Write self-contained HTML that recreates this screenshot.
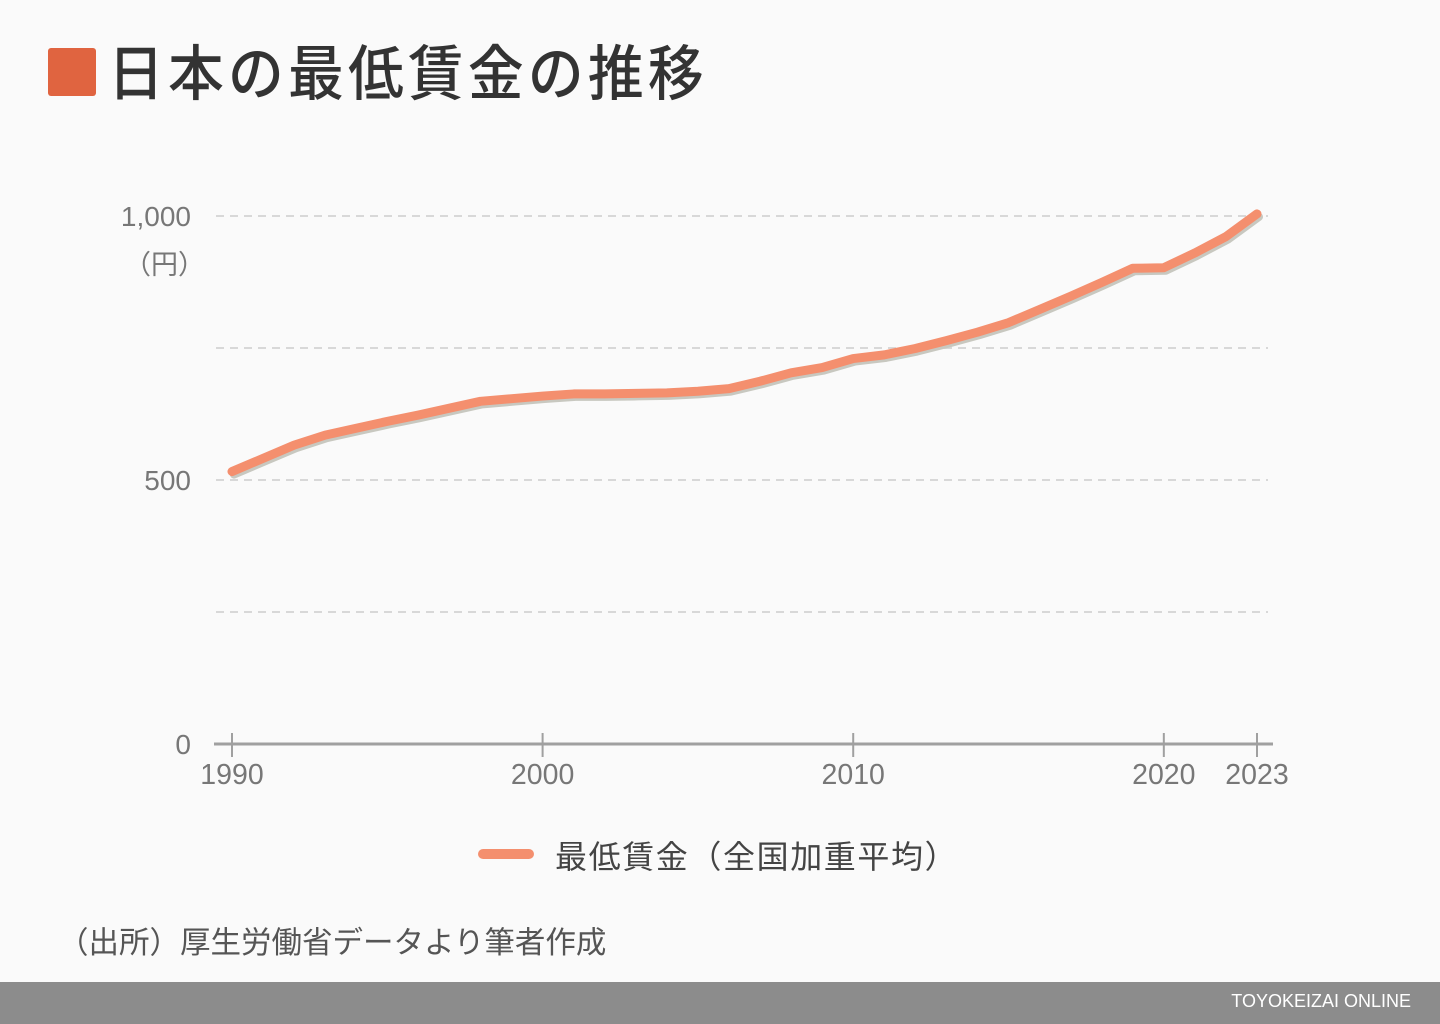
<!DOCTYPE html>
<html><head><meta charset="utf-8">
<style>
body{margin:0;width:1440px;height:1024px;background:#fafafa;overflow:hidden;font-family:"Liberation Sans","Noto Sans CJK JP",sans-serif;position:relative}
.t{position:absolute;white-space:nowrap}
</style></head><body>
<div style="position:absolute;left:48px;top:48px;width:48px;height:48px;background:#e06440;border-radius:3px"></div>
<div class="t" style="left:108px;top:26px;font-size:60px;color:#333;font-weight:500;letter-spacing:4.5px;transform:scaleX(0.93);transform-origin:left">日本の最低賃金の推移</div>
<svg id="chart" width="1440" height="900" style="position:absolute;left:0;top:0"></svg>
<div class="t" style="left:124px;top:243px;font-size:27px;color:#777">（円）</div>
<div style="position:absolute;left:478px;top:849px;width:56px;height:10px;border-radius:5px;background:#f48f6e"></div>
<div class="t" style="left:555px;top:832px;font-size:32px;letter-spacing:1.6px;color:#444">最低賃金（全国加重平均）</div>
<div class="t" style="left:58px;top:918px;font-size:30.5px;color:#555">（出所）厚生労働省データより筆者作成</div>
<div style="position:absolute;left:0;top:982px;width:1440px;height:42px;background:#8c8c8c"></div>
<div class="t" style="right:29px;top:991px;font-size:18px;color:#fff">TOYOKEIZAI ONLINE</div>
<script>
const years=[1990,1991,1992,1993,1994,1995,1996,1997,1998,1999,2000,2001,2002,2003,2004,2005,2006,2007,2008,2009,2010,2011,2012,2013,2014,2015,2016,2017,2018,2019,2020,2021,2022,2023];
const wages=[516,541,566,585,598,611,623,636,649,654,659,663,663,664,665,668,673,687,703,713,730,737,749,764,780,798,823,848,874,901,902,930,961,1004];
const yTicks=[0,250,500,750,1000];
const yTickLabels=["0","","500","","1,000"];
const xTicks=[1990,2000,2010,2020,2023];
const NS="http://www.w3.org/2000/svg";
const svg=document.getElementById('chart');
const x=v=>232+(v-1990)*(1257-232)/33;
const y=v=>744-v*0.528;
function mk(tag,attrs){const e=document.createElementNS(NS,tag);for(const k in attrs)e.setAttribute(k,attrs[k]);svg.appendChild(e);return e;}
yTicks.forEach((t,i)=>{
  if(t>0){const g=mk('line',{x1:216,x2:1268,y1:y(t),y2:y(t),stroke:'#d8d8d8','stroke-width':2,'stroke-dasharray':'8 6'});
  
  }
  if(yTickLabels[i]){const tx=mk('text',{x:191,y:y(t)+10,'text-anchor':'end','font-size':28,fill:'#777','font-family':'Liberation Sans, sans-serif'});tx.textContent=yTickLabels[i];
  
  }
});
const ax=mk('line',{x1:214,x2:1273,y1:744,y2:744,stroke:'#a0a0a0','stroke-width':3});


xTicks.forEach(t=>{
  const tk=mk('line',{x1:x(t),x2:x(t),y1:733,y2:757,stroke:'#a0a0a0','stroke-width':2});
  
  
  const tx=mk('text',{x:x(t),y:784,'text-anchor':'middle','font-size':28.5,fill:'#777','font-family':'Liberation Sans, sans-serif'});tx.textContent=t;
  
  
});
const pts=years.map((yr,i)=>x(yr)+','+y(wages[i])).join(' ');
const sh=mk('polyline',{points:pts,fill:'none',stroke:'#c8c8c0','stroke-width':8,'stroke-linejoin':'round','stroke-linecap':'round',transform:'translate(2,3)'});


const ln=mk('polyline',{points:pts,fill:'none',stroke:'#f48f6e','stroke-width':9,'stroke-linejoin':'round','stroke-linecap':'round'});


</script>
</body></html>
